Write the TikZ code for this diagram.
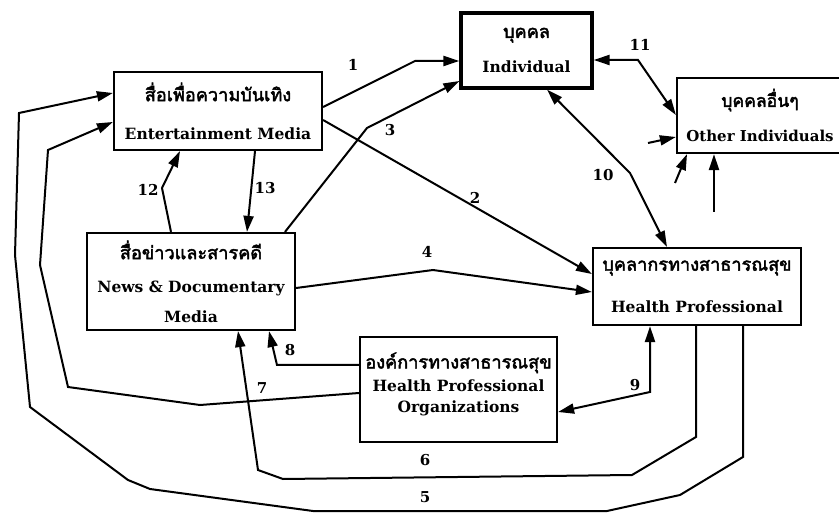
\documentclass[tikz,border=0pt]{standalone}
\usepackage{fontspec}
\setmainfont{DejaVu Serif}
\newfontfamily\thai[Script=Thai,Scale=1.17,AutoFakeBold=2.5]{Loma}
\usetikzlibrary{arrows.meta}
\tikzset{
  box/.style={draw,line width=2.2pt,inner sep=0pt,align=center,
    font=\bfseries\fontsize{15.5}{18}\selectfont},
  conn/.style={line width=2pt,line join=miter},
  arr/.style={-{Triangle[length=16pt,width=10pt]}},
  darr/.style={{Triangle[length=16pt,width=10pt]}-{Triangle[length=16pt,width=10pt]}},
  num/.style={font=\bfseries\fontsize{15}{17}\selectfont,inner sep=0pt}
}
\newcommand{\thtxt}[1]{{\thai\bfseries #1}}
\begin{document}
\begin{tikzpicture}[x=1pt,y=-1pt]
\useasboundingbox (0,0) rectangle (839,513);
\clip (0,0) rectangle (839,513);
\fill[white] (0,0) rectangle (839,513);
% boxes
\node[box,minimum width=208pt,minimum height=78pt] (ent) at (218,111)
  {\thtxt{สื่อเพื่อความบันเทิง}\\[20pt]Entertainment Media};
\node[box,line width=3.2pt,minimum width=131pt,minimum height=75pt] (ind) at (526.5,50.5)
  {\thtxt{บุคคล}\\[17pt]Individual};
\node[box,minimum width=166pt,minimum height=75pt,
  font=\bfseries\fontsize{15}{18}\selectfont] (oth) at (760,115.5)
  {\thtxt{บุคคลอื่นๆ}\\[17pt]Other Individuals};
\node[box,minimum width=208pt,minimum height=97pt] (news) at (191,281.5)
  {\thtxt{สื่อข่าวและสารคดี}\\[15pt]News \& Documentary\\[12pt]Media};
\node[box,minimum width=208pt,minimum height=77pt] (hp) at (697,286.5)
  {\thtxt{บุคลากรทางสาธารณสุข}\\[24pt]Health Professional};
\node[box,minimum width=197pt,minimum height=105pt] (org) at (458.5,389.5)
  {\thtxt{องค์การทางสาธารณสุข}\\[5pt]Health Professional\\[3pt]Organizations\\[-4pt]\mbox{}};
% connectors
\draw[conn,arr] (ent.east |- 0,107) -- (415,61) -- (ind.west |- 0,61);
\draw[conn,arr] (ent.east |- 0,120) -- (hp.west |- 0,274);
\draw[conn,arr] (news.north -| 285,0) -- (367,128) -- (ind.west |- 0,81);
\draw[conn,arr] (news.east |- 0,288) -- (433,270) -- (hp.west |- 0,292);
\draw[conn,arr] (hp.south -| 743,0) -- (743,457) -- (680,495) -- (607,511) -- (313,511)
  -- (150,489) -- (128,480) -- (30,407) -- (15,255) -- (19,113) -- (ent.west |- 0,93);
\draw[conn,arr] (hp.south -| 696,0) -- (696,437) -- (632,475) -- (283,479) -- (258,470)
  -- (news.south -| 238,0);
\draw[conn,arr] (org.west |- 0,393) -- (200,405) -- (68,387) -- (40,265) -- (48,150)
  -- (ent.west |- 0,122);
\draw[conn,arr] (org.west |- 0,365) -- (277,365) -- (news.south -| 269,0);
\draw[conn,darr] (org.east |- 0,412) -- (650,392) -- (hp.south -| 650,0);
\draw[conn,darr] (ind.south -| 547,0) -- (630,173) -- (hp.north -| 667,0);
\draw[conn,darr] (ind.east |- 0,60) -- (638,60) -- (oth.west |- 0,115);
\draw[conn,arr] (news.north -| 171,0) -- (162,188) -- (ent.south -| 180,0);
\draw[conn,arr] (ent.south -| 255,0) -- (news.north -| 247,0);
% stubs into other individuals
\coordinate (s1) at (648,143);
\coordinate (s2) at (675,183);
\coordinate (s3) at (714,212);
\draw[conn,arr] (s1) -- (oth.west |- 0,137);
\draw[conn,arr] (s2) -- (oth.south -| 687,0);
\draw[conn,arr] (s3) -- (oth.south -| 714,0);
% labels
\node[num] (l1) at (353,65) {1};
\node[num] (l2) at (475,198) {2};
\node[num] (l3) at (390,130) {3};
\node[num] (l4) at (427,252) {4};
\node[num] (l5) at (425,497) {5};
\node[num] (l6) at (425,460) {6};
\node[num] (l7) at (262,388) {7};
\node[num] (l8) at (290,350) {8};
\node[num] (l9) at (635,385) {9};
\node[num] (l10) at (603,175) {10};
\node[num] (l11) at (640,45) {11};
\node[num] (l12) at (148,190) {12};
\node[num] (l13) at (265,188) {13};
\end{tikzpicture}
\end{document}
